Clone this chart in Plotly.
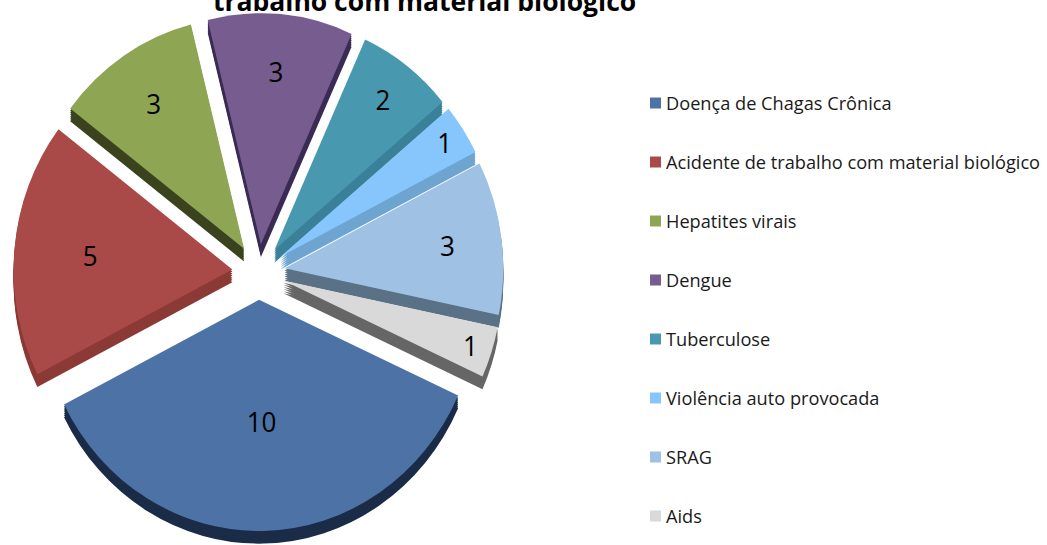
import plotly.graph_objects as go

labels = ["Doença de Chagas Crônica", "Acidente de trabalho com material biológico",
          "Hepatites virais", "Dengue", "Tuberculose", "Violência auto provocada", "SRAG", "Aids"]
values = [10, 5, 3, 3, 2, 1, 3, 1]
top_colors = ["#4c72a6", "#a94a48", "#8ea654", "#775c8f", "#4898b0", "#86c6fc", "#9fc1e4", "#d9d9d9"]
side_colors = ["#1a2c47", "#8b3a36", "#3a431d", "#3a2c55", "#3a8099", "#6ea5d0", "#5a7186", "#666666"]
title_text = "trabalho com material biológico"

W, H = 1047, 545
CX, CY, HALF = 258.5, 272, 245
STRETCH = 1.057
PULL = 0.12
ROT = 114.5
DEPTHS = [12, 10, 8, 6, 4, 2]
LEGEND_TOP, LEGEND_STEP = 103, 59

def domain(dy):
    return dict(x=[(CX - HALF) / W, (CX + HALF) / W],
                y=[1 - (CY + dy + HALF) / H, 1 - (CY + dy - HALF) / H])

fig = go.Figure()
for d in DEPTHS:
    fig.add_trace(go.Pie(labels=labels, values=values, sort=False, direction="clockwise", rotation=ROT,
                         pull=PULL, domain=domain(d), textinfo="none", hoverinfo="skip",
                         marker=dict(colors=side_colors, line=dict(width=0))))
fig.add_trace(go.Pie(labels=labels, values=values, sort=False, direction="clockwise", rotation=ROT,
                     pull=PULL, domain=domain(0), textinfo="value", textposition="inside",
                     insidetextorientation="horizontal",
                     insidetextfont=dict(family="Open Sans", size=26, color="#000000"),
                     marker=dict(colors=top_colors, line=dict(width=0))))

shapes, annotations = [], []
for i, (lab, col) in enumerate(zip(labels, top_colors)):
    y = LEGEND_TOP + i * LEGEND_STEP
    shapes.append(dict(type="rect", xref="paper", yref="paper", x0=650 / W, x1=661 / W,
                       y0=1 - (y + 5.5) / H, y1=1 - (y - 5.5) / H,
                       fillcolor=col, line=dict(width=0)))
    annotations.append(dict(text=lab, xref="paper", yref="paper", x=664 / W, y=1 - y / H,
                            xanchor="left", yanchor="middle", showarrow=False,
                            font=dict(family="Open Sans", size=18.2, color="#1a1a1a")))
annotations.append(dict(text="<b>" + title_text + "</b>", xref="paper", yref="paper", x=424 / W, y=1, yshift=-1,
                        xanchor="center", yanchor="middle", showarrow=False,
                        font=dict(family="Open Sans", size=26.5, color="#000000")))

fig.update_layout(width=W, height=H, margin=dict(l=0, r=0, t=0, b=0), showlegend=False,
                  paper_bgcolor="#ffffff", shapes=shapes, annotations=annotations)
post = ("document.body.style.margin='0';"
        "var p=document.querySelector('.pielayer');"
        f"if(p)p.setAttribute('transform','translate(0,{CY}) scale(1,{STRETCH}) translate(0,{-CY})');")
fig.write_html("out.html", post_script=post, config={"displayModeBar": False})
